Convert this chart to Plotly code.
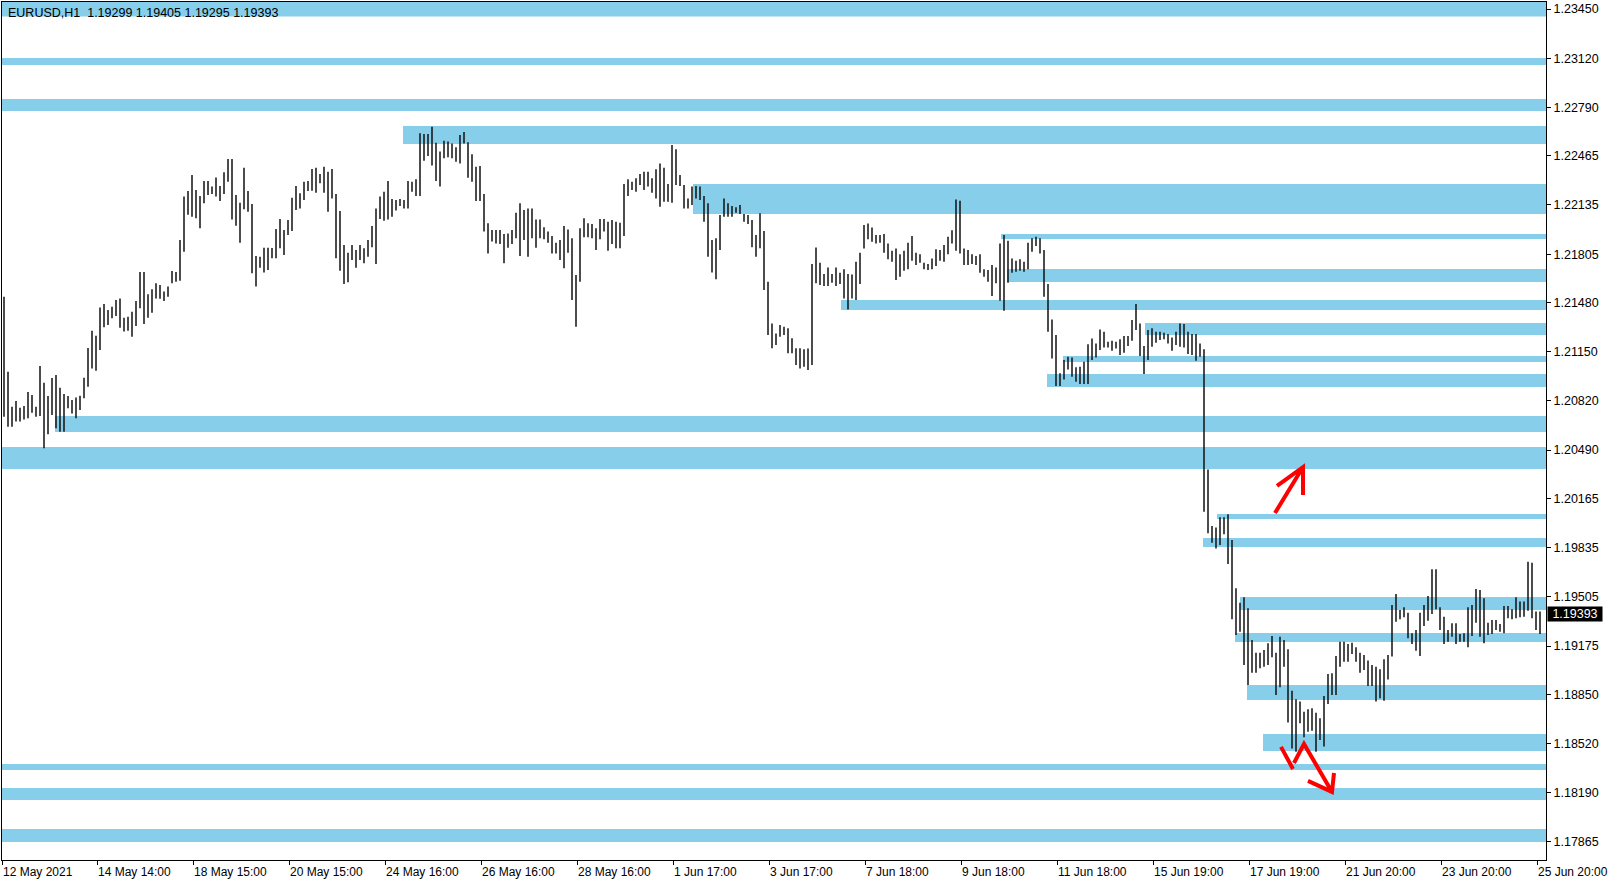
import plotly.graph_objects as go

# ---------------- data ----------------
title_text = "EURUSD,H1\u00a0\u00a01.19299 1.19405 1.19295 1.19393"
last_price = 1.19393

# 2-hour bars (high / low)
highs = [
 1.21519,1.21016,1.20781,1.20819,1.20774,1.20786,1.20880,1.20860,1.20781,1.21054,
 1.20942,1.20853,1.20974,1.20994,1.20909,1.20866,1.20853,1.20826,1.20842,1.20855,
 1.20976,1.21175,1.21291,1.21258,1.21446,1.21470,1.21430,1.21452,1.21497,1.21508,
 1.21378,1.21385,1.21419,1.21490,1.21685,1.21685,1.21535,1.21569,1.21609,1.21598,
 1.21555,1.21587,1.21692,1.21685,1.21900,1.22191,1.22229,1.22336,1.22235,1.22195,
 1.22296,1.22296,1.22258,1.22320,1.22262,1.22354,1.22443,1.22443,1.22202,1.22150,
 1.22385,1.22229,1.22141,1.21792,1.21788,1.21848,1.21848,1.21846,1.21974,1.22041,
 1.21967,1.22034,1.22184,1.22262,1.22213,1.22291,1.22296,1.22376,1.22385,1.22343,
 1.22392,1.22358,1.22376,1.22208,1.22094,1.21866,1.21815,1.21866,1.21833,1.21866,
 1.21844,1.21900,1.21994,1.22112,1.22191,1.22224,1.22296,1.22175,1.22168,1.22175,
 1.22168,1.22296,1.22291,1.22307,1.22616,1.22611,1.22611,1.22660,1.22553,1.22493,
 1.22566,1.22560,1.22548,1.22522,1.22604,1.22624,1.22555,1.22475,1.22392,1.22396,
 1.22208,1.22012,1.21967,1.21967,1.21967,1.21940,1.21944,1.21967,1.22083,1.22146,
 1.22101,1.22112,1.22112,1.22038,1.22038,1.21985,1.21956,1.21927,1.21882,1.21900,
 1.21994,1.21971,1.21911,1.21665,1.21978,1.22045,1.22012,1.22007,1.21978,1.22041,
 1.22041,1.22023,1.22034,1.22023,1.22016,1.22276,1.22307,1.22291,1.22314,1.22343,
 1.22358,1.22358,1.22314,1.22374,1.22414,1.22385,1.22276,1.22537,1.22508,1.22336,
 1.22269,1.22179,1.22258,1.22262,1.22258,1.22195,1.22146,1.21900,1.21911,1.22068,
 1.22179,1.22146,1.22128,1.22119,1.22135,1.22074,1.22068,1.22034,1.21933,1.22079,
 1.21960,1.21620,1.21340,1.21273,1.21329,1.21318,1.21307,1.21240,1.21173,1.21173,
 1.21166,1.21172,1.21738,1.21850,1.21747,1.21671,1.21716,1.21671,1.21716,1.21680,
 1.21703,1.21671,1.21669,1.21754,1.21814,1.22000,1.22011,1.21984,1.21933,1.21933,
 1.21940,1.21877,1.21828,1.21843,1.21805,1.21828,1.21881,1.21926,1.21814,1.21805,
 1.21747,1.21738,1.21776,1.21837,1.21832,1.21866,1.21922,1.21966,1.22172,1.22163,
 1.21843,1.21832,1.21805,1.21792,1.21805,1.21703,1.21698,1.21732,1.21716,1.21877,
 1.21933,1.21895,1.21776,1.21761,1.21770,1.21754,1.21881,1.21911,1.21922,1.21911,
 1.21832,1.21604,1.21367,1.21262,1.21005,1.21094,1.21116,1.21112,1.21045,1.21049,
 1.21083,1.21201,1.21239,1.21206,1.21300,1.21284,1.21217,1.21224,1.21217,1.21233,
 1.21255,1.21255,1.21363,1.21470,1.21340,1.21188,1.21295,1.21307,1.21284,1.21284,
 1.21278,1.21269,1.21246,1.21284,1.21340,1.21336,1.21284,1.21269,1.21269,1.21206,
 1.21166,1.20360,1.19980,1.19971,1.20039,1.20039,1.20059,1.19886,1.19562,1.19466,
 1.19502,1.19428,1.19215,1.19130,1.19130,1.19148,1.19193,1.19242,1.19130,1.19238,
 1.19215,1.19153,1.18875,1.18817,1.18802,1.18734,1.18750,1.18757,1.18728,1.18690,
 1.18840,1.18987,1.18992,1.19108,1.19204,1.19204,1.19189,1.19197,1.19166,1.19130,
 1.19115,1.19077,1.19048,1.19036,1.19019,1.19086,1.19115,1.19450,1.19524,1.19417,
 1.19435,1.19399,1.19260,1.19283,1.19399,1.19450,1.19511,1.19690,1.19690,1.19435,
 1.19372,1.19283,1.19327,1.19327,1.19256,1.19260,1.19435,1.19450,1.19558,1.19551,
 1.19495,1.19332,1.19350,1.19350,1.19323,1.19444,1.19444,1.19421,1.19502,1.19473,
 1.19473,1.19741,1.19734,1.19406,1.19406,
]
lows = [
 1.20714,1.20647,1.20647,1.20681,1.20681,1.20696,1.20703,1.20741,1.20714,1.20719,
 1.20502,1.20596,1.20725,1.20636,1.20613,1.20613,1.20770,1.20736,1.20703,1.20759,
 1.20837,1.20915,1.21038,1.21023,1.21161,1.21314,1.21329,1.21374,1.21390,1.21311,
 1.21285,1.21291,1.21251,1.21323,1.21441,1.21336,1.21378,1.21412,1.21508,1.21506,
 1.21490,1.21519,1.21609,1.21620,1.21627,1.21821,1.22070,1.22056,1.22045,1.21978,
 1.22146,1.22202,1.22208,1.22191,1.22161,1.22208,1.22291,1.22038,1.21996,1.21882,
 1.22106,1.22090,1.21676,1.21587,1.21714,1.21681,1.21698,1.21777,1.21777,1.21844,
 1.21799,1.21933,1.21960,1.22101,1.22112,1.22168,1.22229,1.22231,1.22217,1.22280,
 1.22217,1.22090,1.22179,1.21777,1.21694,1.21604,1.21616,1.21766,1.21714,1.21766,
 1.21743,1.21788,1.21851,1.21739,1.22041,1.22029,1.22038,1.22056,1.22097,1.22128,
 1.22112,1.22112,1.22224,1.22195,1.22195,1.22432,1.22463,1.22399,1.22296,1.22258,
 1.22448,1.22455,1.22448,1.22425,1.22414,1.22548,1.22318,1.22291,1.22161,1.22161,
 1.21956,1.21810,1.21889,1.21877,1.21873,1.21743,1.21848,1.21873,1.21911,1.21792,
 1.21900,1.21788,1.21911,1.21848,1.21911,1.21904,1.21882,1.21810,1.21810,1.21766,
 1.21710,1.21815,1.21497,1.21318,1.21620,1.21918,1.21918,1.21911,1.21833,1.21904,
 1.21956,1.21828,1.21873,1.21844,1.21844,1.21927,1.22195,1.22235,1.22224,1.22269,
 1.22235,1.22258,1.22217,1.22179,1.22123,1.22157,1.22157,1.22150,1.22269,1.22262,
 1.22112,1.22112,1.22135,1.22179,1.22168,1.22023,1.21788,1.21681,1.21636,1.21833,
 1.22056,1.22056,1.22056,1.22083,1.22074,1.22023,1.22007,1.21851,1.21788,1.21844,
 1.21564,1.21262,1.21173,1.21195,1.21251,1.21262,1.21139,1.21139,1.21061,1.21038,
 1.21050,1.21027,1.21061,1.21609,1.21597,1.21591,1.21591,1.21613,1.21591,1.21604,
 1.21508,1.21434,1.21508,1.21497,1.21604,1.21843,1.21904,1.21888,1.21877,1.21881,
 1.21814,1.21770,1.21754,1.21631,1.21653,1.21694,1.21703,1.21761,1.21732,1.21747,
 1.21703,1.21698,1.21703,1.21725,1.21761,1.21754,1.21805,1.21877,1.21828,1.21810,
 1.21732,1.21732,1.21738,1.21732,1.21680,1.21653,1.21620,1.21524,1.21609,1.21492,
 1.21425,1.21613,1.21680,1.21687,1.21694,1.21687,1.21703,1.21821,1.21859,1.21810,
 1.21519,1.21284,1.21105,1.20920,1.20920,1.20964,1.21031,1.20982,1.20949,1.20933,
 1.20933,1.20933,1.21094,1.21112,1.21161,1.21179,1.21179,1.21157,1.21172,1.21128,
 1.21143,1.21188,1.21224,1.21295,1.21121,1.21000,1.21094,1.21184,1.21210,1.21228,
 1.21233,1.21206,1.21157,1.21195,1.21184,1.21179,1.21134,1.21128,1.21090,1.21116,
 1.20076,1.19931,1.19868,1.19830,1.19853,1.19925,1.19725,1.19354,1.19249,1.19271,
 1.19048,1.18913,1.18996,1.18996,1.19025,1.19036,1.19048,1.19099,1.18846,1.18898,
 1.19036,1.18661,1.18488,1.18466,1.18656,1.18562,1.18600,1.18607,1.18466,1.18544,
 1.18500,1.18786,1.18846,1.18846,1.19036,1.19070,1.19070,1.19121,1.19070,1.18996,
 1.19014,1.18907,1.18907,1.18802,1.18824,1.18808,1.18951,1.19104,1.19338,1.19354,
 1.19368,1.19227,1.19189,1.19144,1.19108,1.19309,1.19345,1.19390,1.19421,1.19283,
 1.19189,1.19204,1.19238,1.19189,1.19204,1.19204,1.19166,1.19242,1.19332,1.19238,
 1.19193,1.19249,1.19256,1.19283,1.19271,1.19260,1.19361,1.19354,1.19361,1.19368,
 1.19372,1.19412,1.19361,1.19283,1.19256,
]

x_labels = ["12 May 2021", "14 May 14:00", "18 May 15:00", "20 May 15:00", "24 May 16:00",
            "26 May 16:00", "28 May 16:00", "1 Jun 17:00", "3 Jun 17:00", "7 Jun 18:00",
            "9 Jun 18:00", "11 Jun 18:00", "15 Jun 19:00", "17 Jun 19:00", "21 Jun 20:00",
            "23 Jun 20:00", "25 Jun 20:00"]

y_ticks = [1.23450, 1.23120, 1.22790, 1.22465, 1.22135, 1.21805, 1.21480, 1.21150, 1.20820,
           1.20490, 1.20165, 1.19835, 1.19505, 1.19175, 1.18850, 1.18520, 1.18190, 1.17865]

# supply / demand zones: first bar index (-0.5 = whole chart), top price, bottom price
zone_start = [-0.5, -0.5, -0.5, 99.75, 172.25, 249.25, 250.75, 209.25, 285.25, 264.75, 260.75,
              12.75, -0.5, 303.25, 299.75, 309.0, 307.75, 310.75, 314.75, -0.5, -0.5, -0.5]
zone_top = [1.23497, 1.23121, 1.22846, 1.22665, 1.22275, 1.21940, 1.21705, 1.21497, 1.21343,
            1.21121, 1.21000, 1.20719, 1.20511, 1.20061, 1.19900, 1.19504, 1.19262, 1.18914,
            1.18585, 1.18384, 1.18223, 1.17947]
zone_bottom = [1.23400, 1.23074, 1.22765, 1.22544, 1.22074, 1.21906, 1.21618, 1.21430, 1.21262,
               1.21081, 1.20913, 1.20611, 1.20363, 1.20027, 1.19840, 1.19417, 1.19202, 1.18813,
               1.18471, 1.18343, 1.18142, 1.17860]

# ---------------- figure ----------------
n_bars = len(highs)
x_min, x_max = -0.5, n_bars + 0.5
y_min, y_max = 1.17739, 1.23497
label_pos = [-0.5] + [24 * k - 0.75 for k in range(1, len(x_labels))]

fig = go.Figure()

xs, ys = [], []
for i, (h, l) in enumerate(zip(highs, lows)):
    xs += [i, i, None]
    ys += [l, h, None]
fig.add_trace(go.Scatter(x=xs, y=ys, mode="lines", line=dict(color="#111111", width=1.5),
                         hoverinfo="skip", showlegend=False))

shapes = []
for s, t, b in zip(zone_start, zone_top, zone_bottom):
    shapes.append(dict(type="rect", xref="x", yref="y", x0=max(s, x_min), x1=x_max,
                       y0=b, y1=min(t, y_max), fillcolor="#87CEEB", line=dict(width=0),
                       layer="below"))

red = dict(color="#FF0000", width=4)
shapes.append(dict(type="path", xref="x", yref="y", layer="above", line=red,
                   fillcolor="rgba(0,0,0,0)",
                   path="M 317.75,1.20068 L 324.75,1.20376 M 318.25,1.20249 L 324.75,1.20376 L 324.75,1.20189"))
shapes.append(dict(type="path", xref="x", yref="y", layer="above", line=red,
                   fillcolor="rgba(0,0,0,0)",
                   path="M 319.25,1.18498 L 322.25,1.18350 M 322.5,1.18390 L 325,1.18518 L 332,1.18196 "
                        "M 326,1.18270 L 332,1.18196 L 332.5,1.18323"))

font_main = "Liberation Sans, Arial, sans-serif"
annotations = []
for pos, lab in zip(label_pos, x_labels):
    annotations.append(dict(x=pos, y=0, xref="x", yref="paper", text=lab, showarrow=False,
                            xanchor="left", yanchor="top", yshift=-3, xshift=-1,
                            font=dict(family=font_main, size=12, color="black")))
annotations.append(dict(x=0, y=1, xref="paper", yref="paper", text=title_text, showarrow=False,
                        xanchor="left", yanchor="top", xshift=4, yshift=-2,
                        font=dict(family=font_main, size=12.5, color="black")))
annotations.append(dict(x=1, y=last_price, xref="paper", yref="y", text=f"{last_price:.5f}",
                        showarrow=False, xanchor="left", yanchor="middle", xshift=1,
                        bgcolor="black", width=52, height=12, borderpad=1,
                        font=dict(family=font_main, size=12.5, color="white")))

fig.update_layout(
    width=1610, height=884,
    margin=dict(l=2, r=64, t=2, b=24),
    paper_bgcolor="white", plot_bgcolor="white",
    showlegend=False,
    shapes=shapes,
    annotations=annotations,
    xaxis=dict(range=[x_min, x_max], showgrid=False, zeroline=False, showline=True,
               linecolor="black", linewidth=1, mirror=True, ticks="outside", ticklen=4,
               tickcolor="black", tickvals=label_pos, showticklabels=False, fixedrange=True),
    yaxis=dict(range=[y_min, y_max], side="right", showgrid=False, zeroline=False,
               showline=True, linecolor="black", linewidth=1, mirror=True, ticks="outside",
               ticklen=4, tickcolor="black", tickvals=y_ticks,
               ticktext=[f"{v:.5f}" for v in y_ticks],
               tickfont=dict(family=font_main, size=12.5, color="black"), fixedrange=True),
)

fig.write_html("out.html", config={"displayModeBar": False},
               post_script="document.body.style.margin='0';document.body.style.overflow='hidden';")
